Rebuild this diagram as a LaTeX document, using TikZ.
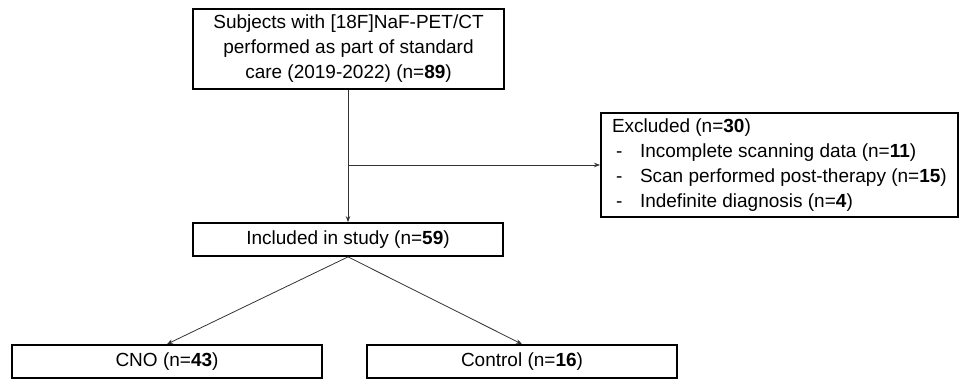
\documentclass[tikz,border=0pt]{standalone}
\usepackage{fontspec}
\setmainfont{Liberation Sans}
\usetikzlibrary{arrows.meta}

\begin{document}
\begin{tikzpicture}[x=1pt, y=-1pt,
    font=\fontsize{19}{25}\selectfont,
    flowbox/.style={draw, line width=1.8pt, rectangle, inner sep=0pt},
    link/.style={line width=0.8pt, black!80, -{Stealth[length=6pt, width=4.5pt]}}]
        \useasboundingbox (0, 0) rectangle (959, 380);

        \node[flowbox, minimum width=311, minimum height=80, align=center] (subjects) at (348.5, 49)
            {Subjects with [18F]NaF-PET/CT\\performed as part of standard\\care (2019-2022) (n=\textbf{89})};
        \node[flowbox, minimum width=357, minimum height=104, align=left, anchor=west, inner xsep=8pt] (excluded) at (600, 165)
            {Excluded (n=\textbf{30})\\
             \hspace*{4pt}\makebox[24pt][l]{-}Incomplete scanning data (n=\textbf{11})\\
             \hspace*{4pt}\makebox[24pt][l]{-}Scan performed post-therapy (n=\textbf{15})\\
             \hspace*{4pt}\makebox[24pt][l]{-}Indefinite diagnosis (n=\textbf{4})};
        \node[flowbox, minimum width=310, minimum height=33] (included) at (348, 239.5)
            {Included in study (n=\textbf{59})};
        \node[flowbox, minimum width=310, minimum height=33] (cno) at (167, 361.5) {CNO (n=\textbf{43})};
        \node[flowbox, minimum width=310, minimum height=33] (control) at (522, 361.5) {Control (n=\textbf{16})};

        \coordinate (split) at (348, 165);

        \draw[link] (subjects.south -| split) -- (included.north -| split);
        \draw[link] (split) -- (excluded.west);
        \draw[link] (included.south) -- (cno.north);
        \draw[link] (included.south) -- (control.north);

    \end{tikzpicture}
\end{document}
